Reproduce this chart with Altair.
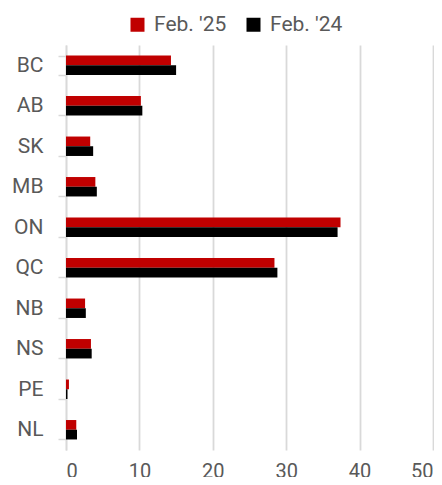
import altair as alt
import pandas as pd

provinces = ["BC", "AB", "SK", "MB", "ON", "QC", "NB", "NS", "PE", "NL"]
feb25 = [14.3, 10.2, 3.3, 4.0, 37.4, 28.4, 2.6, 3.4, 0.4, 1.4]
feb24 = [15.0, 10.4, 3.7, 4.2, 37.0, 28.8, 2.7, 3.5, 0.2, 1.5]
series = ["Feb. '25", "Feb. '24"]
colors = ["#C00000", "#000000"]

rows = []
for p, a, b in zip(provinces, feb25, feb24):
    rows.append({"prov": p, "series": series[0], "value": a})
    rows.append({"prov": p, "series": series[1], "value": b})
df = pd.DataFrame(rows)

FONT = "Roboto"
GREY = "#595959"

chart = alt.Chart(df).mark_bar().encode(
    y=alt.Y("prov:N", sort=provinces, title=None,
            scale=alt.Scale(paddingInner=0.52, paddingOuter=0.26),
            axis=alt.Axis(labelFontSize=21, labelColor=GREY, labelFont=FONT,
                          domainColor="#d9d9d9", domainWidth=1.5,
                          tickColor="#d9d9d9", tickWidth=1.5, tickSize=8,
                          tickBand="extent", labelPadding=15, grid=False)),
    yOffset=alt.YOffset("series:N", sort=series),
    x=alt.X("value:Q", title=None,
            scale=alt.Scale(domain=[0, 50], nice=False),
            axis=alt.Axis(values=[0, 10, 20, 30, 40, 50], labelFontSize=20,
                          labelColor=GREY, labelFont=FONT, domain=False,
                          ticks=False, gridColor="#d9d9d9", gridWidth=1.8,
                          labelPadding=11)),
    color=alt.Color("series:N", sort=series,
                    scale=alt.Scale(domain=series, range=colors),
                    legend=alt.Legend(title=None, orient="none", legendX=61,
                                      legendY=-31, direction="horizontal",
                                      symbolType="square", symbolSize=196,
                                      symbolStrokeWidth=0,
                                      labelFontSize=21, labelColor=GREY,
                                      labelFont=FONT, labelOffset=6,
                                      columnPadding=16)),
).properties(
    width=367, height=405,
    autosize=alt.AutoSizeParams(type="none"),
    padding={"left": 58, "top": 37, "right": 1, "bottom": 27},
).configure_view(stroke=None)

chart.save("out.html", embed_options={"renderer": "svg", "actions": False})
